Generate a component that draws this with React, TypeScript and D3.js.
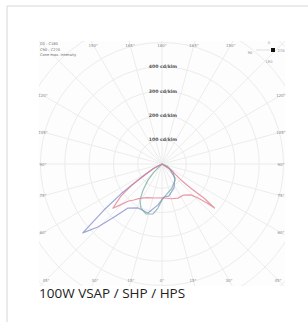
import * as d3 from "d3";
import { useEffect, useRef } from "react";

// photometric curves: [angle from nadir (deg, + = right), intensity cd/klm], in drawing order
const planeA = [
  [0, 0], [-62, 40], [-56, 118], [-54, 207], [-51.6, 305], [-49, 432],
  [-45.5, 370], [-42, 294], [-37.7, 229], [-28.6, 206], [-16, 210], [-5.6, 169],
  [3.5, 136], [12, 135], [26.6, 110], [43, 78], [60, 33],
];
const planeB = [
  [0, 0], [-62, 40], [-57, 100], [-55, 150], [-52, 215], [-48, 272], [-46, 245],
  [-42, 205], [-38, 188], [-34, 172], [-28, 158], [-23, 150], [-12, 143], [3, 140],
  [15, 148], [25, 155], [35, 156], [43, 174], [46.6, 204], [49, 245], [50, 282],
  [51, 222], [50, 155], [50, 102], [56, 44],
];
const planeC = [
  [0, 0], [-45, 47], [-41, 88], [-36, 133], [-31.4, 174], [-25.5, 201], [-17.7, 216],
  [-10.2, 209], [-5.2, 182], [0, 148], [9.5, 125], [22.6, 107], [39, 85], [54, 56], [68, 22],
];

const ringValues = [100, 200, 300, 400, 500, 600, 700];
const ringLabels = [100, 200, 300, 400];
const gridAngles = [0, 15, 30, 45, 60, 75, 90, 105, 120, 135, 150, 165, 180, 195, 210, 225, 240, 255, 270, 285, 300, 315, 330, 345];
const edgeAngles = [-150, -165, 180, 165, 150, -120, -105, -90, -75, -60, 60, 75, 90, 105, 120, -45, -30, -15, 0, 15, 30, 45];
const legendLines = ["C0 - C180", "C90 - C270", "Cone max. intensity"];
const caption = "100W VSAP / SHP / HPS";

const W = 308;
const H = 327;
const box = { x: 39, y: 41, w: 246, h: 245 };

const App = () => {
  const svgRef = useRef<SVGSVGElement | null>(null);

  useEffect(() => {
    const svg = d3.select(svgRef.current);
    svg.selectAll("*").remove();

    const cx = box.x + box.w / 2;
    const cy = 164;
    const r = d3.scaleLinear().domain([0, 100]).range([0, 24.3]);
    // nadir-based angle -> d3 radial angle (clockwise from up)
    const toRad = (a: number) => Math.PI - (a * Math.PI) / 180;

    // card border
    svg.append("line").attr("x1", 7).attr("x2", 7).attr("y1", 6).attr("y2", 322)
      .attr("stroke", "#d6d6d6");
    svg.append("line").attr("x1", 7).attr("x2", W).attr("y1", 6).attr("y2", 6)
      .attr("stroke", "#d6d6d6");

    svg.append("defs").append("clipPath").attr("id", "plotClip")
      .append("rect").attr("x", box.x).attr("y", box.y).attr("width", box.w).attr("height", box.h);

    const g = svg.append("g").attr("clip-path", "url(#plotClip)");
    g.append("rect").attr("x", box.x).attr("y", box.y).attr("width", box.w).attr("height", box.h)
      .attr("fill", "#fdfdfd");

    const c = g.append("g").attr("transform", `translate(${cx},${cy})`);

    // grid
    c.selectAll("circle.ring").data(ringValues).enter().append("circle")
      .attr("r", d => r(d)).attr("fill", "none").attr("stroke", "#ececec").attr("stroke-width", 1);
    c.selectAll("line.spoke").data(gridAngles).enter().append("line")
      .attr("x1", 0).attr("y1", 0)
      .attr("x2", d => Math.sin(toRad(d)) * 220)
      .attr("y2", d => -Math.cos(toRad(d)) * 220)
      .attr("stroke", "#ececec").attr("stroke-width", 1);

    // ring labels
    c.selectAll("text.ring").data(ringLabels).enter().append("text")
      .attr("x", 1).attr("y", d => -r(d) + 1.5)
      .attr("text-anchor", "middle")
      .attr("font-family", "DejaVu Sans").attr("font-size", 4.6).attr("font-weight", "bold")
      .attr("fill", "#555")
      .text(d => `${d} cd/klm`);

    // curves
    const line = d3.lineRadial<number[]>()
      .angle(d => toRad(d[0]))
      .radius(d => r(d[1]))
      .curve(d3.curveLinearClosed);

    const curves = [
      { data: planeA, color: "#8088cc" },
      { data: planeC, color: "#74ab9f" },
      { data: planeB, color: "#e2788a" },
    ];
    c.selectAll("path.curve").data(curves).enter().append("path")
      .attr("d", d => line(d.data))
      .attr("fill", "none")
      .attr("stroke", d => d.color)
      .attr("stroke-width", 1.2)
      .attr("stroke-opacity", 0.75)
      .attr("stroke-linejoin", "round");

    // edge angle labels
    edgeAngles.forEach(a => {
      const t = toRad(a);
      const dx = Math.sin(t);
      const dy = -Math.cos(t);
      const kx = Math.abs(dx) > 1e-6 ? (box.w / 2 - 4) / Math.abs(dx) : Infinity;
      const ky = Math.abs(dy) > 1e-6
        ? (dy < 0 ? cy - box.y - 4 : box.y + box.h - cy - 6) / Math.abs(dy)
        : Infinity;
      const k = Math.min(kx, ky);
      svg.append("text")
        .attr("x", cx + dx * k)
        .attr("y", cy + dy * k + 1.5)
        .attr("text-anchor", "middle")
        .attr("font-family", "DejaVu Sans").attr("font-size", 4).attr("fill", "#8a8a8a")
        .text(`${Math.abs(a)}°`);
    });

    // top-left legend
    legendLines.forEach((s, i) => {
      svg.append("text")
        .attr("x", box.x + 1).attr("y", 45 + i * 5.5)
        .attr("font-family", "DejaVu Sans").attr("font-size", 3.6).attr("fill", "#666")
        .text(s);
    });

    // top-right orientation icon
    svg.append("rect").attr("x", 271).attr("y", 48).attr("width", 4).attr("height", 4).attr("fill", "#111");
    svg.append("line").attr("x1", 256).attr("x2", 270).attr("y1", 50).attr("y2", 50)
      .attr("stroke", "#ccc").attr("stroke-width", 0.6);
    svg.append("text").attr("x", 250).attr("y", 54).attr("font-size", 3.6).attr("fill", "#888")
      .attr("font-family", "DejaVu Sans").attr("text-anchor", "middle").text("90");
    svg.append("text").attr("x", 269).attr("y", 44).attr("font-size", 3.6).attr("fill", "#999")
      .attr("font-family", "DejaVu Sans").attr("text-anchor", "middle").text("0");
    svg.append("text").attr("x", 269).attr("y", 63).attr("font-size", 3.6).attr("fill", "#999")
      .attr("font-family", "DejaVu Sans").attr("text-anchor", "middle").text("180");
    svg.append("text").attr("x", 281).attr("y", 52).attr("font-size", 3.6).attr("fill", "#777")
      .attr("font-family", "DejaVu Sans").attr("text-anchor", "middle").text("270");

    // caption
    svg.append("text").attr("x", 39).attr("y", 298)
      .attr("font-family", "Open Sans").attr("font-size", 13.5).attr("fill", "#222")
      .text(caption);
  }, []);

  return (
    <svg ref={svgRef} width={W} height={H}
      style={{ position: "absolute", left: 0, top: 0, background: "#fff" }} />
  );
};

export default App;
